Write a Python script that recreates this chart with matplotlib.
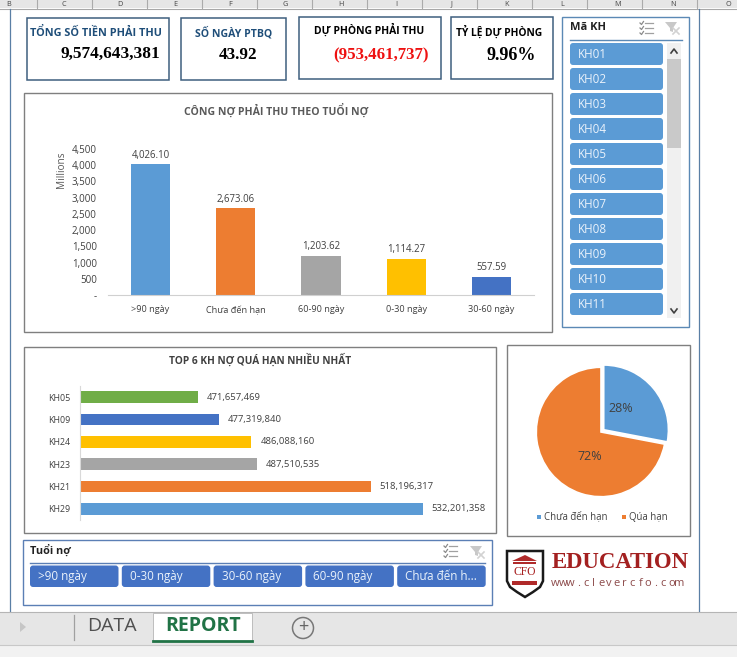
import matplotlib
matplotlib.use("Agg")
import matplotlib.pyplot as plt
from matplotlib.patches import Rectangle, FancyBboxPatch, Polygon, Circle
from matplotlib.ticker import FuncFormatter, FixedLocator

W, H = 737, 657
SANS = ['Open Sans', 'DejaVu Sans']
SERIF = ['Liberation Serif', 'DejaVu Serif']
plt.rcParams['font.family'] = SANS

# ---- data ----
kpi_titles = ["TỔNG SỐ TIỀN PHẢI THU", "SỐ NGÀY PTBQ", "DỰ PHÒNG PHẢI THU", "TỶ LỆ DỰ PHÒNG"]
kpi_values = ["9,574,643,381", "43.92", "(953,461,737)", "9.96%"]
age_cats = [">90 ngày", "Chưa đến hạn", "60-90 ngày", "0-30 ngày", "30-60 ngày"]
age_vals = [4026.10, 2673.06, 1203.62, 1114.27, 557.59]
age_colors = ["#5B9BD5", "#ED7D31", "#A5A5A5", "#FFC000", "#4472C4"]
age_ticks = [0, 500, 1000, 1500, 2000, 2500, 3000, 3500, 4000, 4500]
top_cust = ["KH29", "KH21", "KH23", "KH24", "KH09", "KH05"]
top_vals = [532201358, 518196317, 487510535, 486088160, 477319840, 471657469]
top_colors = ["#5B9BD5", "#ED7D31", "#A5A5A5", "#FFC000", "#4472C4", "#70AD47"]
pie_labels = ["Chưa đến hạn", "Qúa hạn"]
pie_vals = [28, 72]
pie_colors = ["#5B9BD5", "#ED7D31"]
kh_items = ["KH01", "KH02", "KH03", "KH04", "KH05", "KH06", "KH07", "KH08", "KH09", "KH10", "KH11"]
age_slicer = [">90 ngày", "0-30 ngày", "30-60 ngày", "60-90 ngày", "Chưa đến h..."]
columns = list("BCDEFGHIJKLMNO")
tabs = ["DATA", "REPORT"]

fig = plt.figure(figsize=(W / 100, H / 100), dpi=100, facecolor="white")
bg = fig.add_axes([0, 0, 1, 1])
bg.set_xlim(0, W)
bg.set_ylim(H, 0)
bg.axis("off")


def rect(x0, y0, x1, y1, fc="none", ec="none", lw=1.0, z=1):
    bg.add_patch(Rectangle((x0, y0), x1 - x0, y1 - y0, fc=fc, ec=ec, lw=lw, zorder=z))


def sub_axes(x0, y0, x1, y1):
    a = fig.add_axes([x0 / W, 1 - y1 / H, (x1 - x0) / W, (y1 - y0) / H])
    a.patch.set_alpha(0)
    return a


def button(x0, y0, x1, y1, txt, color):
    bg.add_patch(FancyBboxPatch((x0 + 2, y0 + 2), x1 - x0 - 4, y1 - y0 - 4,
                                boxstyle="round,pad=2,rounding_size=3", fc=color, ec="none", zorder=3))
    bg.text(x0 + 8, (y0 + y1) / 2 - 0.8, txt, color="#EAF2FB", fontsize=8.4,
            va="center_baseline", ha="left", zorder=4)


def checklist_icon(x, y):
    for k in range(3):
        bg.plot([x + 5, x + 13], [y + k * 5] * 2, color="#A0A0A0", lw=0.9, zorder=3)
        bg.plot([x, x + 1.5, x + 3.5], [y + k * 5, y + k * 5 + 1.5, y + k * 5 - 1.5], color="#8A8A8A", lw=0.9, zorder=3)


def filter_icon(x, y):
    bg.add_patch(Polygon([[x, y], [x + 12, y], [x + 8, y + 6], [x + 8, y + 10], [x + 5, y + 9], [x + 5, y + 6]],
                         fc="#C8C8C8", zorder=3))
    bg.plot([x + 8, x + 14], [y + 6, y + 12], color="#D2D2D2", lw=1.2, zorder=3)
    bg.plot([x + 14, x + 8], [y + 6, y + 12], color="#D2D2D2", lw=1.2, zorder=3)


# ---- spreadsheet frame ----
rect(0, 0, W, 8, fc="#E6E6E6", z=0)
for i, c in enumerate(columns):
    bg.text(9 + i * 55.3, 4, c, fontsize=5.2, color="#444444", ha="center", va="center", zorder=0.5)
    bg.plot([37 + i * 55] * 2, [0, 8], color="#ABABAB", lw=0.8, zorder=0.6)
rect(0, 8.5, W, 611, fc="white", z=0.8)
bg.plot([0, W], [8.5, 8.5], color="#A8A8A8", lw=0.8, zorder=1)
bg.plot([10.5, 10.5], [9, 611], color="#5A7FA5", lw=0.9, zorder=1)
bg.plot([699.5, 699.5], [9, 611], color="#5A7FA5", lw=0.9, zorder=1)

# ---- KPI cards ----
cards = [(27.5, 17.5, 169.5, 79.5), (181.5, 17.5, 286.5, 79.5), (299.5, 16.5, 441.5, 78.5), (451.5, 16.5, 553.5, 78.5)]
title_pos = [(96, 33, "#1F4E79", 7.8), (233.5, 33, "#1F4E79", 7.6), (369.5, 30, "black", 7.5), (499, 32, "black", 7.4)]
value_pos = [(110.5, 54, "black", 12.4), (238, 55, "black", 12.3), (381, 55, "#EE1111", 12.2), (511, 56, "black", 13)]
for b, t, tp, v, vp in zip(cards, kpi_titles, title_pos, kpi_values, value_pos):
    rect(*b, ec="#3F5F7F", lw=1.1, z=2)
    bg.text(tp[0], tp[1], t, fontsize=tp[3], fontweight="bold", color=tp[2], ha="center", va="center", zorder=3)
    bg.text(vp[0], vp[1], v, fontsize=vp[3], fontweight="bold", color=vp[2], family=SERIF,
            ha="center", va="center", zorder=3)

# ---- column chart ----
rect(24.5, 92.5, 552.5, 331.5, ec="#7F7F7F", lw=1.0, z=2)
bg.text(276, 111, "CÔNG NỢ PHẢI THU THEO TUỔI NỢ", fontsize=7.6, fontweight="bold", color="#595959",
        ha="center", va="center", zorder=3)
ax = sub_axes(108, 149, 534, 295)
ax.bar(range(len(age_vals)), age_vals, width=0.46, color=age_colors)
ax.set_xlim(-0.5, 4.5)
ax.set_ylim(0, 4500)
ax.yaxis.set_major_locator(FixedLocator(age_ticks))
ax.yaxis.set_major_formatter(FuncFormatter(lambda v, _: "-" if v == 0 else f"{v:,.0f}"))
ax.set_xticks(range(len(age_cats)), age_cats)
ax.tick_params(axis="y", length=0, labelsize=7, labelcolor="#404040", pad=8)
ax.tick_params(axis="x", length=0, labelsize=6.6, labelcolor="#404040", pad=7.5)
for s in ["top", "right", "left"]:
    ax.spines[s].set_visible(False)
ax.spines["bottom"].set_color("#D0D0D0")
for i, v in enumerate(age_vals):
    ax.annotate(f"{v:,.2f}", (i, v), xytext=(0, 6.5), textcoords="offset points", ha="center",
                va="center", fontsize=6.9, color="#404040")
bg.text(61.5, 170, "Millions", rotation=90, fontsize=7.2, color="#595959", ha="center", va="center", zorder=3)

# ---- horizontal bars ----
rect(24.5, 346.5, 496.5, 532.5, ec="#7F7F7F", lw=1.0, z=2)
bg.text(260, 360, "TOP 6 KH NỢ QUÁ HẠN NHIỀU NHẤT", fontsize=7.3, fontweight="bold", color="#404040",
        ha="center", va="center", zorder=3)
ax2 = sub_axes(80, 386, 480, 520)
ax2.barh(range(len(top_vals)), top_vals, height=0.53, color=top_colors)
ax2.set_ylim(-0.5, 5.5)
x_min = 440e6
ax2.set_xlim(x_min, x_min + 400 / 3.717 * 1e6)
ax2.set_yticks(range(len(top_cust)), top_cust)
ax2.set_xticks([])
ax2.tick_params(axis="y", length=0, labelsize=6.4, labelcolor="#404040", pad=7)
for s in ["top", "right", "bottom"]:
    ax2.spines[s].set_visible(False)
ax2.spines["left"].set_color("#D9D9D9")
for i, v in enumerate(top_vals):
    ax2.annotate(f"{v:,.0f}", (v, i), xytext=(6.5, 0), textcoords="offset points", ha="left",
                 va="center", fontsize=6.8, color="#404040")

# ---- pie ----
rect(507.5, 344.5, 690.5, 535.5, ec="#7F7F7F", lw=1.0, z=2)
ax3 = sub_axes(523, 354, 679, 510)
wedges, _, autotexts = ax3.pie(pie_vals, colors=pie_colors, startangle=90, counterclock=False,
                               explode=[0.045, 0], radius=0.83, autopct="%d%%", pctdistance=0.45,
                               wedgeprops=dict(edgecolor="white", linewidth=1.2),
                               textprops=dict(fontsize=9, color="#404040"))
ax3.set_xlim(-1, 1)
ax3.set_ylim(-1, 1)
autotexts[0].set_position((0.25, 0.30))
autotexts[1].set_position((-0.14, -0.32))
for (x, col, lab) in zip([537, 622], pie_colors, pie_labels):
    bg.add_patch(Rectangle((x, 515), 4, 4, fc=col, ec="none", zorder=3))
    bg.text(x + 7, 517, lab, fontsize=6.9, color="#404040", ha="left", va="center", zorder=3)

# ---- KH slicer ----
rect(562.5, 16.5, 689.5, 326.5, ec="#5B89B5", lw=1.0, z=2)
bg.text(570, 28, "Mã KH", fontsize=8, fontweight="bold", color="#222222", ha="left", va="center", zorder=3)
bg.plot([570, 682], [39.5, 39.5], color="#5B89B5", lw=1, zorder=3)
for i, k in enumerate(kh_items):
    y = 43 + i * 25
    button(570, y, 663, y + 22, k, "#5B9BD5")
rect(667, 43, 681, 318, fc="#F0F0F0", z=3)
rect(667, 59, 681, 148, fc="#C9C9C9", z=4)
bg.plot([671, 674, 677], [53, 49, 53], color="#404040", lw=1.2, zorder=5)
bg.plot([671, 674, 677], [309, 313, 309], color="#404040", lw=1.2, zorder=5)
checklist_icon(640, 23)
filter_icon(665, 22)

# ---- age slicer ----
rect(23.5, 539.5, 492.5, 604.5, ec="#5B7FB5", lw=1.0, z=2)
bg.text(30, 551, "Tuổi nợ", fontsize=7.8, fontweight="bold", color="#222222", ha="left", va="center", zorder=3)
bg.plot([30, 485], [562.5, 562.5], color="#5B7FB5", lw=1, zorder=3)
for i, k in enumerate(age_slicer):
    x = 30 + i * 91.8
    button(x, 565.5, x + 88.5, 587, k, "#4472C4")
checklist_icon(444, 546)
filter_icon(470, 546)

# ---- logo ----
bg.add_patch(Polygon([[507, 551], [543, 551], [543, 581], [540, 587], [533, 592], [525, 597],
                      [517, 592], [510, 587], [507, 581]],
                     fc="white", ec="#1A1A1A", lw=1.8, zorder=3))
bg.add_patch(Polygon([[512, 561], [525, 555], [537, 561]], fc="#B02A2A", zorder=4))
rect(513, 562, 536, 563.5, fc="#B02A2A", z=4)
bg.text(525, 572, "CFO", fontsize=8.4, color="#A82020", family=SERIF, ha="center", va="center", zorder=4)
bg.add_patch(Polygon([[512, 581], [537, 581], [537, 585], [512, 585]], fc="#B02A2A", zorder=4))
bg.text(552, 562, "EDUCATION", fontsize=16.4, fontweight="bold", color="#A32020", family=SERIF,
        ha="left", va="center", zorder=4)
logo_url = "www.clevercfo.com"
for i, ch in enumerate(logo_url):
    bg.text(555 + i * 7.75, 584, ch, fontsize=8, color="#8C4A4A", ha="center", va="center", zorder=4)

# ---- tab bar ----
rect(0, 612, W, 645, fc="#E6E6E6", z=1)
rect(0, 645, W, H, fc="#F2F2F2", z=1)
bg.plot([0, W], [612, 612], color="#B5B5B5", lw=0.8, zorder=1.1)
bg.plot([0, W], [645, 645], color="#C8C8C8", lw=0.8, zorder=1.1)
bg.add_patch(Polygon([[20, 622], [26, 627], [20, 632]], fc="#C6C6C6", zorder=2))
bg.plot([74, 74], [615, 640], color="#A0A0A0", lw=0.9, zorder=2)
rect(153, 613, 252, 641, fc="white", z=2)
bg.plot([153, 153, 252, 252], [641, 613, 613, 641], color="#BDBDBD", lw=0.7, zorder=2.1)
bg.plot([153, 252], [641, 641], color="#217346", lw=2, zorder=2.2)
bg.text(112, 626, tabs[0], fontsize=14, color="#505050", ha="center", va="center", zorder=3)
bg.text(203, 626, tabs[1], fontsize=14, fontweight="bold", color="#217346", ha="center", va="center", zorder=3)
bg.add_patch(Circle((303, 628), 10.5, fc="none", ec="#777777", lw=1.1, zorder=3))
bg.text(303, 627.5, "+", fontsize=13, color="#666666", ha="center", va="center", zorder=3)

fig.savefig("out.png", dpi=100)
